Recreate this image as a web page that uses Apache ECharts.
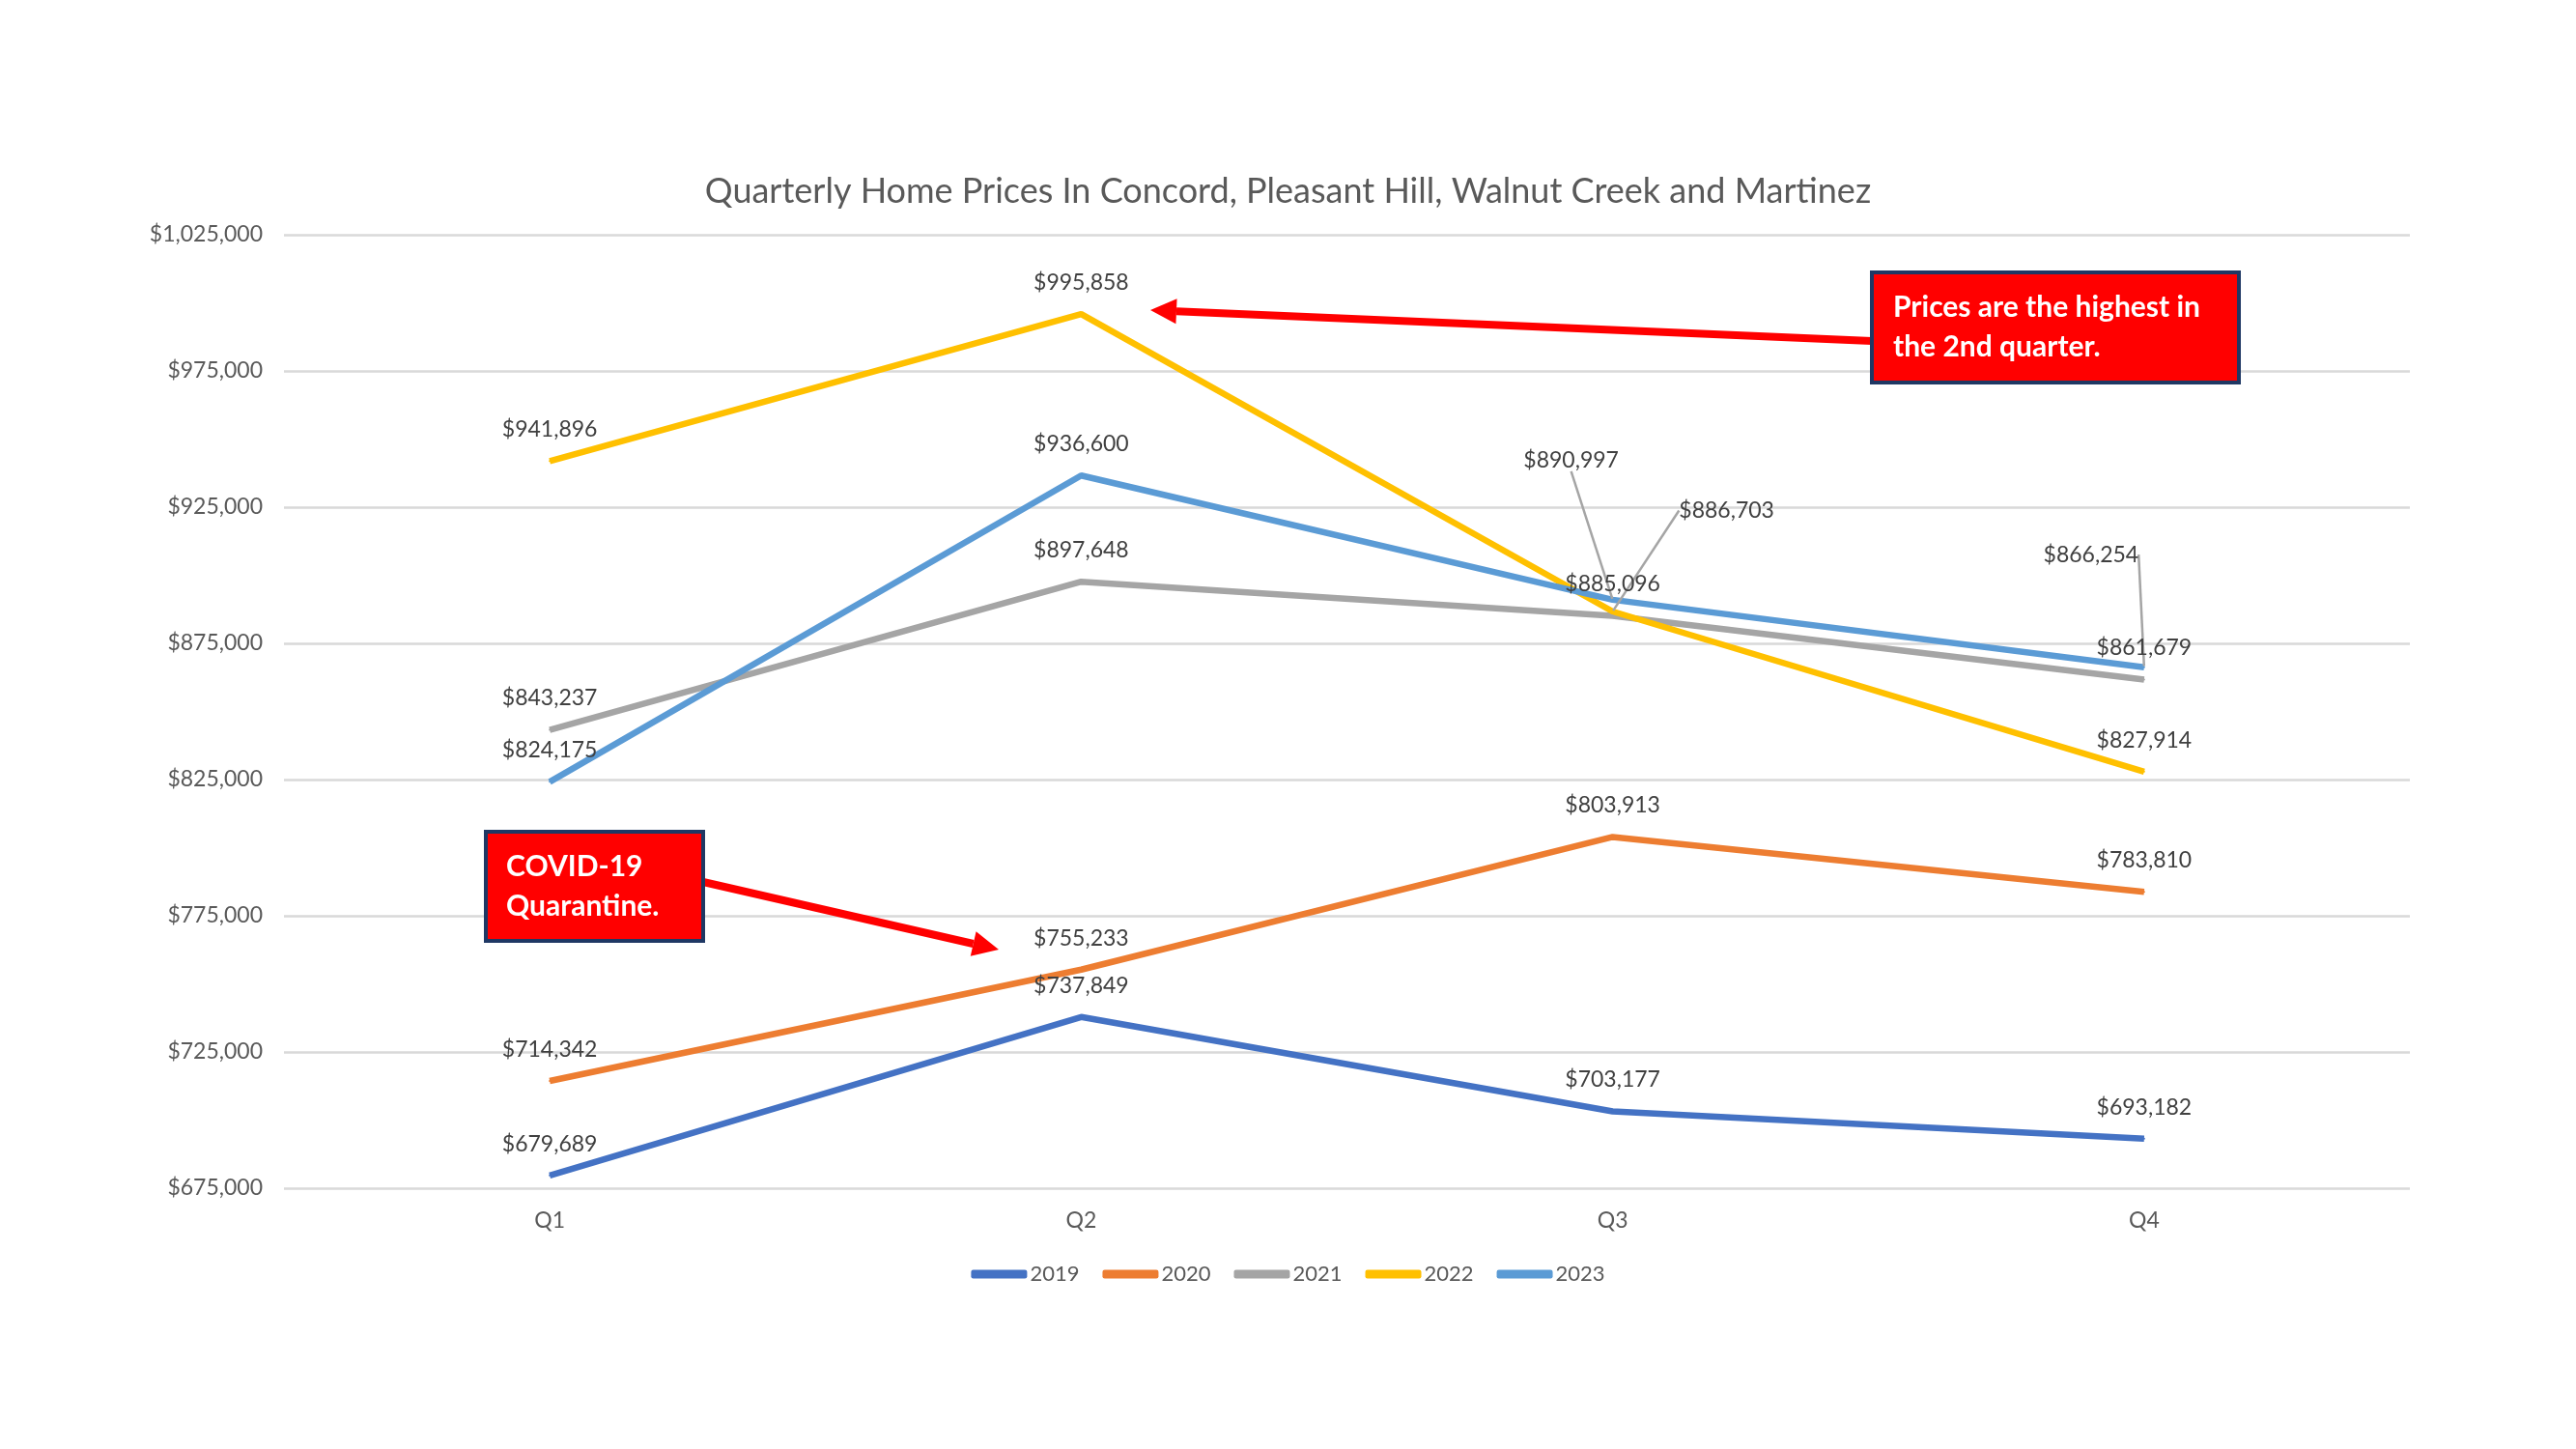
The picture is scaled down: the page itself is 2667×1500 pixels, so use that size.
<!DOCTYPE html>
<html>
<head>
<meta charset="utf-8">
<title>Quarterly Home Prices</title>
<script src="https://cdn.jsdelivr.net/npm/echarts@6/dist/echarts.min.js"></script>
<style>
  html, body { margin: 0; padding: 0; background: #fff; }
  #chart { width: 2667px; height: 1500px; }
</style>
</head>
<body>
<div id="chart"></div>
<script>
const quarters = ['Q1', 'Q2', 'Q3', 'Q4']
const years = ['2019', '2020', '2021', '2022', '2023']
const prices2019 = [679689, 737849, 703177, 693182]
const prices2020 = [714342, 755233, 803913, 783810]
const prices2021 = [843237, 897648, 885096, 861679]
const prices2022 = [941896, 995858, 886703, 827914]
const prices2023 = [824175, 936600, 890997, 866254]
const yTicks = [675000, 1025000, 50000] // min, max, step

const colors = ['#4472C4', '#ED7D31', '#A5A5A5', '#FFC000', '#5B9BD5']
const font = 'Lato, "Open Sans", sans-serif'

// labels pulled away from the crowded Q3/Q4 points: [series, quarter, dx, dy]
const movedLabels = [[4, 2, -43, -112], [3, 2, 118, -72], [4, 3, -55, -84]]
const findMoved = (s, q) => movedLabels.find(o => o[0] === s && o[1] === q)

const money = v => '$' + Number(v).toLocaleString('en-US')

// red call-out arrow, head at (x2, y2)
const arrow = (x1, y1, x2, y2) => {
  const a = Math.atan2(y2 - y1, x2 - x1)
  const len = 27, half = 13
  const bx = x2 - len * Math.cos(a), by = y2 - len * Math.sin(a)
  const nx = -Math.sin(a) * half, ny = Math.cos(a) * half
  return [
    { type: 'line', z: 100, shape: { x1, y1, x2: bx, y2: by }, style: { stroke: '#FF0000', lineWidth: 8 } },
    { type: 'polygon', z: 100, shape: { points: [[x2, y2], [bx + nx, by + ny], [bx - nx, by - ny]] }, style: { fill: '#FF0000' } }
  ]
}

const callout = (x, y, w, h, lines, pad) => [
  { type: 'rect', z: 101, shape: { x, y, width: w, height: h }, style: { fill: '#FF0000', stroke: '#1F3864', lineWidth: 4 } },
  { type: 'text', z: 102, x: x + pad, y: y + h / 2, style: { text: lines.join('\n'), fill: '#fff', font: 'bold 30px ' + font, lineHeight: 41, verticalAlign: 'middle' } }
]

const allPrices = [prices2019, prices2020, prices2021, prices2022, prices2023]

const chart = echarts.init(document.getElementById('chart'))
chart.setOption({
  animation: false,
  color: colors,
  title: {
    text: 'Quarterly Home Prices In Concord, Pleasant Hill, Walnut Creek and Martinez',
    left: 'center',
    top: 175,
    textStyle: { fontFamily: font, fontSize: 36, fontWeight: 'normal', color: '#595959' }
  },
  legend: {
    data: years,
    left: 'center',
    top: 1303,
    icon: 'roundRect',
    itemWidth: 58,
    itemHeight: 9,
    itemGap: 24,
    textStyle: { fontFamily: font, fontSize: 22, color: '#595959', padding: [0, 0, 0, -2] }
  },
  grid: { left: 294, right: 172, top: 243, bottom: 270 },
  xAxis: {
    type: 'category',
    data: quarters,
    boundaryGap: true,
    axisLine: { show: false },
    axisTick: { show: false },
    axisLabel: { margin: 22, fontFamily: font, fontSize: 23, color: '#595959' }
  },
  yAxis: {
    type: 'value',
    min: yTicks[0],
    max: yTicks[1],
    interval: yTicks[2],
    axisLabel: { margin: 22, fontFamily: font, fontSize: 23, color: '#595959', formatter: money },
    splitLine: { lineStyle: { color: '#D9D9D9', width: 2.5 } }
  },
  series: years.map((y, i) => ({
    name: y,
    type: 'line',
    data: allPrices[i].map((v, q) => findMoved(i, q) ? { value: v, labelLine: { show: true } } : v),
    symbol: 'circle',
    symbolSize: 2,
    lineStyle: { width: 6.5, color: colors[i] },
    itemStyle: { color: colors[i] },
    label: {
      show: true,
      position: 'top',
      distance: 20,
      fontFamily: font,
      fontSize: 23,
      color: '#404040',
      formatter: p => money(p.value)
    },
    labelLine: { show: false, lineStyle: { color: '#A5A5A5', width: 2.5 } },
    labelLayout: p => {
      const m = findMoved(p.seriesIndex, p.dataIndex)
      if (!m) return {}
      const r = p.labelRect
      return {
        x: r.x + r.width / 2 + m[2],
        y: r.y + r.height / 2 + m[3],
        align: 'center',
        verticalAlign: 'middle'
      }
    },
    emphasis: { disabled: true }
  })),
  graphic: [
    ...arrow(1938, 353, 1191, 321),
    ...callout(1938, 282, 380, 114, ['Prices are the highest in', 'the 2nd quarter.'], 22),
    ...arrow(728, 913, 1034, 983),
    ...callout(503, 861, 225, 113, ['COVID-19', 'Quarantine.'], 21)
  ]
})
</script>
</body>
</html>
